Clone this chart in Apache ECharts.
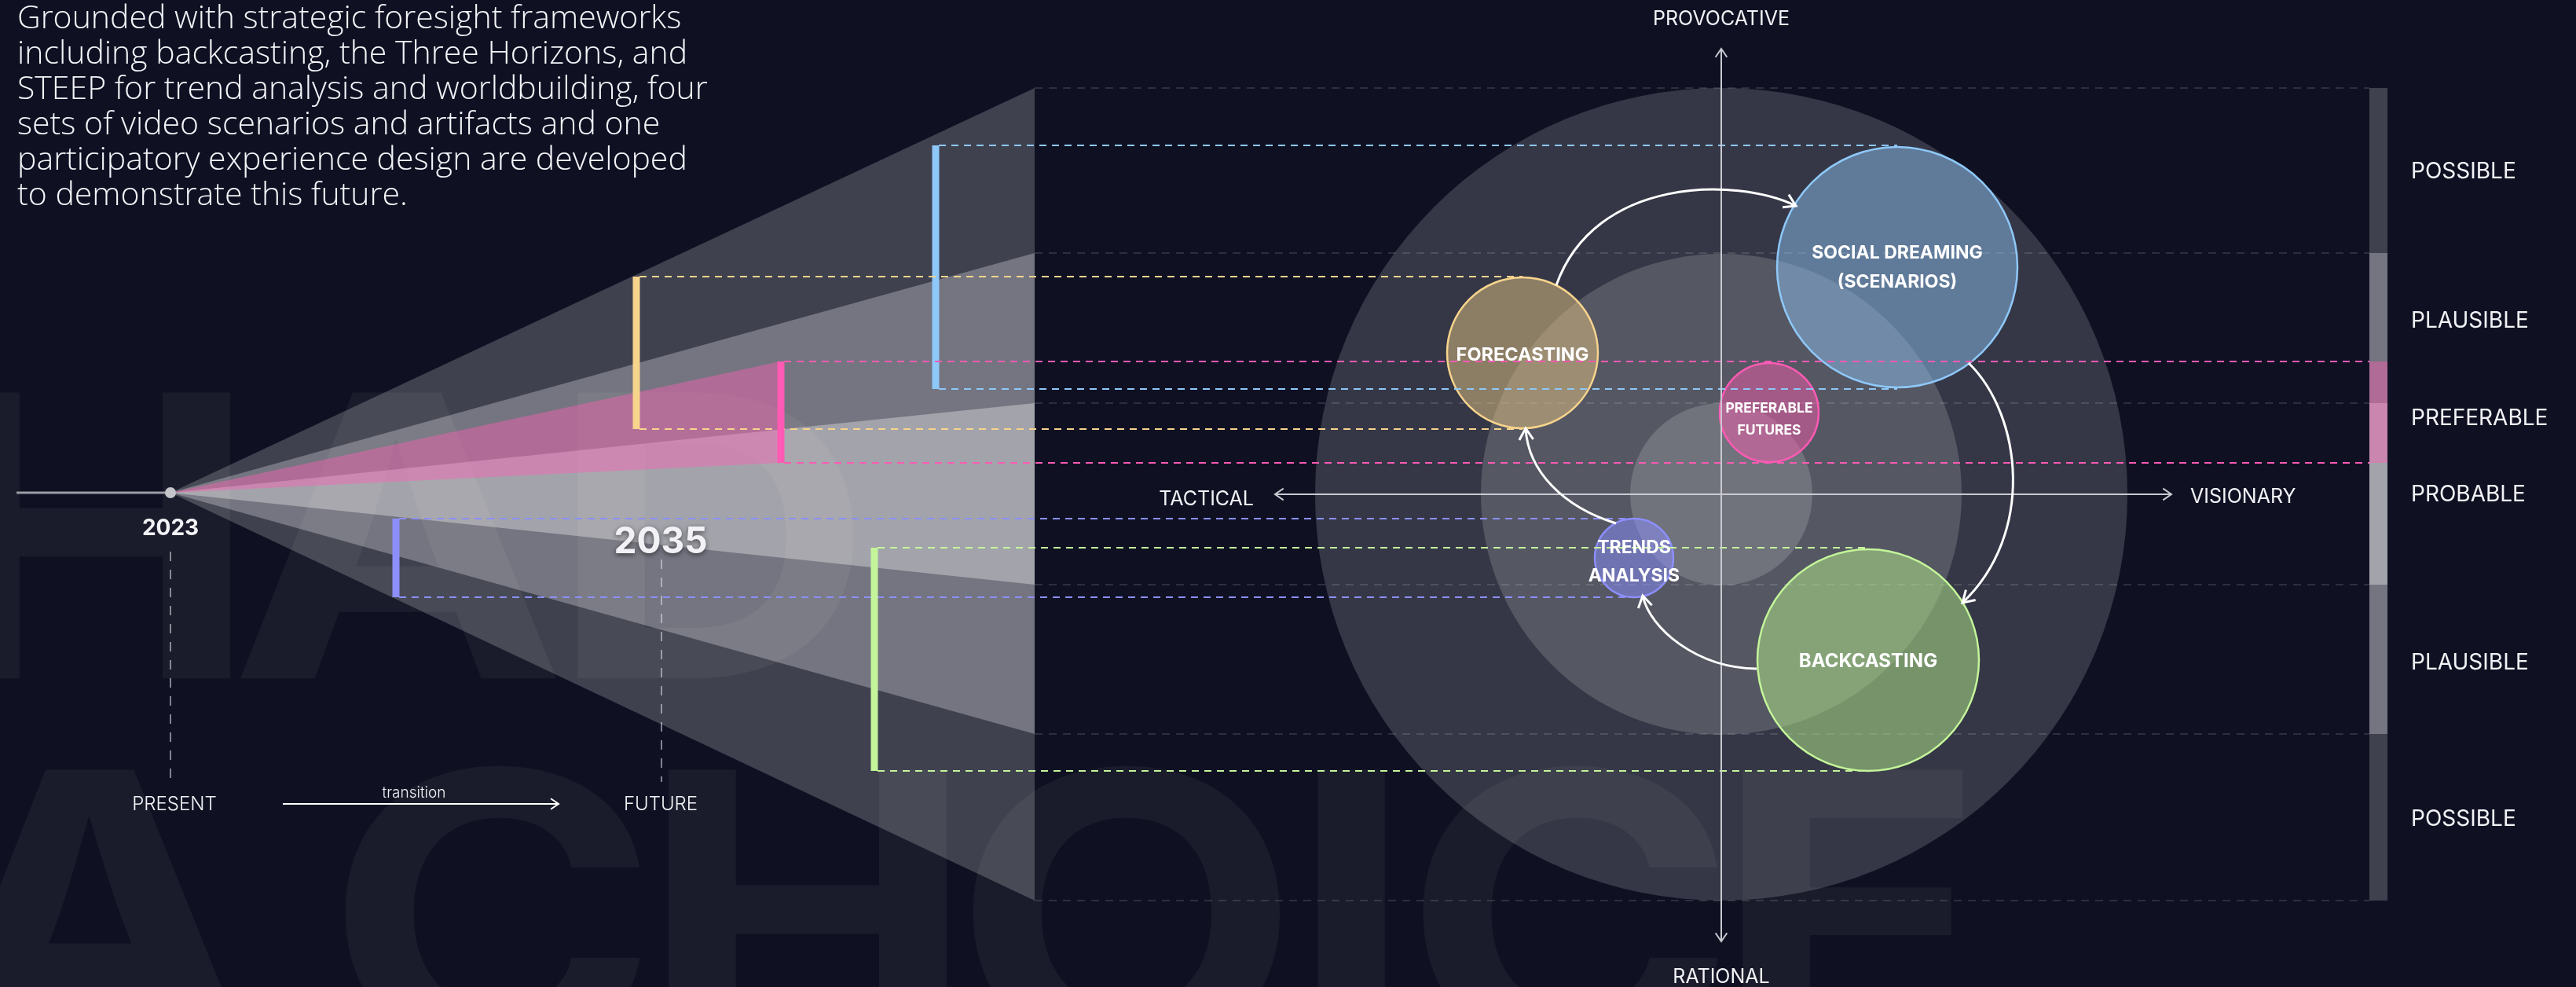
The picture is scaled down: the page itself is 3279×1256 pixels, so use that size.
<!DOCTYPE html>
<html>
<head>
<meta charset="utf-8">
<script src="https://cdn.jsdelivr.net/npm/echarts@6/dist/echarts.min.js"></script>
<style>
  html, body { margin: 0; padding: 0; background: #0f1123; }
  #chart { width: 3279px; height: 1256px; }
</style>
</head>
<body>
<div id="chart"></div>
<script>
// all values live in the canvas coordinate space of the chart (x 0..3279, y 0..1256 downward)

// timeline / cone
var origin = [217, 627];            // 2023
var years = ['2023', '2035'];
var yearX = [217, 842];
var coneEndX = 1317;
var coneTop = [112, 322, 513];       // possible, plausible, probable
var coneBottom = [1146, 934, 744];
var wedgeEnd = [993, 460, 589];      // preferable: x, top, bottom

// futures rings
var ringCenter = [2191, 629];
var ringRadius = [517, 306, 116];

// methods
var methods = ['SOCIAL DREAMING\n(SCENARIOS)', 'FORECASTING', 'PREFERABLE\nFUTURES', 'TRENDS\nANALYSIS', 'BACKCASTING'];
var circleX = [2415, 1938, 2252, 2080, 2378];
var circleY = [340, 449, 525, 710, 840];
var circleR = [153, 96, 63, 50, 141];
var bracketX = [1191, 810, 994, 504, 1113];
var bracketTop = [185, 352, 460, 660, 697];
var bracketBottom = [495, 546, 589, 760, 981];
var bracketEnd = [2415, 1938, 3016, 2080, 2378];

// flows between methods (start, control, control, end)
var flowPaths = [
  [[1981, 363], [2030, 225], [2210, 225], [2286, 262]],
  [[2506, 462], [2575, 530], [2590, 680], [2498, 767]],
  [[2236, 851], [2160, 850], [2100, 800], [2091, 758]],
  [[2057, 666], [1990, 645], [1945, 600], [1942, 545]]
];

// axes
var axisSpanX = [1623, 2764];
var axisSpanY = [62, 1198];

// horizon legend
var legendX = 3016;
var horizonLabels = ['POSSIBLE', 'PLAUSIBLE', 'PREFERABLE', 'PROBABLE', 'PLAUSIBLE', 'POSSIBLE'];
var horizonY = [218, 408, 532, 629, 843, 1042];

// backdrop lettering
var backdropLetters = ['H', 'A', 'D', 'A', 'C', 'H', 'O', 'I', 'C', 'E'];
var backdropX = [116, 507, 905, 116, 626, 1028, 1434, 1720, 1998, 2355];
var backdropRow = [0, 0, 0, 1, 1, 1, 1, 1, 1, 1];

// styles
var coneFill = ['rgba(255,255,255,0.205)', 'rgba(255,255,255,0.28)', 'rgba(255,255,255,0.34)'];
var pinkFill = 'rgba(255,96,180,0.43)';
var methodColor = ['#8ec8f8', '#f7d48c', '#ff5ab4', '#8c8ffa', '#c4f59a'];
var methodFill = ['rgba(140,190,235,0.5)', 'rgba(228,196,132,0.5)', 'rgba(244,93,172,0.5)', 'rgba(140,143,255,0.5)', 'rgba(184,239,142,0.5)'];
var labelSize = [23, 23.5, 17.5, 23, 24];
var labelLine = [37, 30, 28, 36, 30];
var labelDy = [1, 3, 9, 5, 2];
var rowMiddle = [713, 1193];

var chart = echarts.init(document.getElementById('chart'));

function chevron(tip, from, len, spread) {
  var ang = Math.atan2(tip[1] - from[1], tip[0] - from[0]);
  return [
    [tip[0] + len * Math.cos(ang + Math.PI - spread), tip[1] + len * Math.sin(ang + Math.PI - spread)],
    tip,
    [tip[0] + len * Math.cos(ang + Math.PI + spread), tip[1] + len * Math.sin(ang + Math.PI + spread)]
  ];
}

function txt(text, x, y, font, align, extra) {
  var el = {
    type: 'text', x: x, y: y, z: 100, silent: true,
    style: {
      text: text, font: font, fill: '#f2f2f6',
      align: align || 'center', verticalAlign: 'middle',
      textAlign: align || 'center', textVerticalAlign: 'middle'
    }
  };
  if (extra) { for (var k in extra) { el.style[k] = extra[k]; } }
  return el;
}

var labels = backdropLetters.map(function (ch, i) {
  return { type: 'text', x: backdropX[i], y: rowMiddle[backdropRow[i]], scaleX: 1.15, z: 0, silent: true,
    style: { text: ch, font: '700 500px Inter', fill: '#1a1c2b', align: 'center', verticalAlign: 'middle', textAlign: 'center', textVerticalAlign: 'middle' } };
}).concat([
  // intro
  { type: 'text', x: 22, y: 2, z: 100, silent: true,
    style: {
      text: 'Grounded with strategic foresight frameworks\nincluding backcasting, the Three Horizons, and\nSTEEP for trend analysis and worldbuilding, four\nsets of video scenarios and artifacts and one\nparticipatory experience design are developed\nto demonstrate this future.',
      font: '300 41px "Open Sans"', fill: '#f4f4f8', lineHeight: 45,
      align: 'left', verticalAlign: 'top', textAlign: 'left', textVerticalAlign: 'top'
    } },
  txt(years[0], yearX[0], 673, '700 28px Inter'),
  txt(years[1], yearX[1] - 1, 690, '700 46px Inter', 'center', { textShadowColor: 'rgba(0,0,0,0.55)', textShadowBlur: 6, textShadowOffsetY: 2 }),
  txt('PRESENT', 222, 1024, '300 24px Inter'),
  txt('transition', 527, 1009, '300 19px Inter'),
  txt('FUTURE', 841, 1024, '300 24px Inter'),
  txt('PROVOCATIVE', 2191, 24, '400 25px Inter'),
  txt('RATIONAL', 2191, 1243, '400 25px Inter'),
  txt('TACTICAL', 1596, 635, '400 25px Inter', 'right'),
  txt('VISIONARY', 2788, 632, '400 25px Inter', 'left')
]).concat(horizonLabels.map(function (t, i) {
  return txt(t, 3069, horizonY[i] + 1, '400 28px Inter', 'left');
}));

function base(extra) {
  var s = { type: 'custom', coordinateSystem: 'cartesian2d', silent: true, clip: false, animation: false };
  for (var k in extra) { s[k] = extra[k]; }
  return s;
}

var option = {
  backgroundColor: '#0f1123',
  animation: false,
  grid: { left: 0, right: 0, top: 0, bottom: 0 },
  xAxis: { type: 'value', min: 0, max: 3279, show: false },
  yAxis: { type: 'value', min: 0, max: 1256, inverse: true, show: false },
  graphic: { elements: labels },
  series: [
    // cone layers and their slice in the legend bar
    base({
      data: coneTop.map(function (t, i) { return [coneEndX, t, coneBottom[i]]; }),
      renderItem: function (params, api) {
        var a = api.coord(origin);
        var p1 = api.coord([api.value(0), api.value(1)]);
        var p2 = api.coord([api.value(0), api.value(2)]);
        var l1 = api.coord([legendX, api.value(1)]);
        var l2 = api.coord([legendX + 23, api.value(2)]);
        var fill = coneFill[params.dataIndex];
        return { type: 'group', children: [
          { type: 'polygon', shape: { points: [a, p1, p2] }, style: { fill: fill } },
          { type: 'rect', shape: { x: l1[0], y: l1[1], width: l2[0] - l1[0], height: l2[1] - l1[1] }, style: { fill: fill } }
        ] };
      }
    }),
    // preferable wedge
    base({
      data: [wedgeEnd],
      renderItem: function (params, api) {
        var a = api.coord(origin);
        var p1 = api.coord([api.value(0), api.value(1)]);
        var p2 = api.coord([api.value(0), api.value(2)]);
        var l1 = api.coord([legendX, api.value(1)]);
        var l2 = api.coord([legendX + 23, api.value(2)]);
        return { type: 'group', children: [
          { type: 'polygon', shape: { points: [a, p1, p2] }, style: { fill: pinkFill } },
          { type: 'rect', shape: { x: l1[0], y: l1[1], width: l2[0] - l1[0], height: l2[1] - l1[1] }, style: { fill: pinkFill } }
        ] };
      }
    }),
    // futures rings
    base({
      data: ringRadius.map(function (r) { return [ringCenter[0], ringCenter[1], r]; }),
      renderItem: function (params, api) {
        var c = api.coord([api.value(0), api.value(1)]);
        var r = api.size([api.value(2), 0])[0];
        return { type: 'circle', shape: { cx: c[0], cy: c[1], r: r }, style: { fill: 'rgba(255,255,255,0.16)' } };
      }
    }),
    // horizon guide lines
    base({
      data: coneTop.concat(coneBottom).map(function (y) { return [coneEndX, y]; }),
      renderItem: function (params, api) {
        var p1 = api.coord([api.value(0), api.value(1)]);
        var p2 = api.coord([legendX, api.value(1)]);
        return { type: 'line', shape: { x1: p1[0], y1: p1[1], x2: p2[0], y2: p2[1] },
          style: { stroke: 'rgba(255,255,255,0.17)', lineWidth: 1.5, lineDash: [10, 8] } };
      }
    }),
    // method circles
    base({
      data: methods.map(function (m, i) { return [circleX[i], circleY[i], circleR[i]]; }),
      renderItem: function (params, api) {
        var i = params.dataIndex;
        var c = api.coord([api.value(0), api.value(1)]);
        var r = api.size([api.value(2), 0])[0];
        return { type: 'circle', shape: { cx: c[0], cy: c[1], r: r },
          style: { fill: methodFill[i], stroke: methodColor[i], lineWidth: 2.5 } };
      }
    }),
    // brackets with dashed leaders
    base({
      data: bracketX.map(function (x, i) { return [x, bracketTop[i], bracketBottom[i], bracketEnd[i]]; }),
      renderItem: function (params, api) {
        var i = params.dataIndex;
        var t = api.coord([api.value(0), api.value(1)]);
        var b = api.coord([api.value(0), api.value(2)]);
        var e = api.coord([api.value(3), api.value(1)]);
        var dash = { stroke: methodColor[i], lineWidth: 2, lineDash: [9, 7] };
        return { type: 'group', children: [
          { type: 'line', shape: { x1: t[0] + 4, y1: t[1], x2: e[0], y2: t[1] }, style: dash },
          { type: 'line', shape: { x1: b[0] + 4, y1: b[1], x2: e[0], y2: b[1] }, style: dash },
          { type: 'rect', shape: { x: t[0] - 4.5, y: t[1], width: 9, height: b[1] - t[1] }, style: { fill: methodColor[i] } }
        ] };
      }
    }),
    // axes
    base({
      data: [ringCenter],
      renderItem: function (params, api) {
        var l = api.coord([axisSpanX[0], api.value(1)]), r = api.coord([axisSpanX[1], api.value(1)]);
        var t = api.coord([api.value(0), axisSpanY[0]]), b = api.coord([api.value(0), axisSpanY[1]]);
        var st = { stroke: '#c9c9d0', lineWidth: 2, fill: null };
        return { type: 'group', children: [
          { type: 'line', shape: { x1: l[0], y1: l[1], x2: r[0], y2: r[1] }, style: st },
          { type: 'line', shape: { x1: t[0], y1: t[1], x2: b[0], y2: b[1] }, style: st },
          { type: 'polyline', shape: { points: chevron(l, r, 13, 0.6) }, style: st },
          { type: 'polyline', shape: { points: chevron(r, l, 13, 0.6) }, style: st },
          { type: 'polyline', shape: { points: chevron(t, b, 13, 0.6) }, style: st },
          { type: 'polyline', shape: { points: chevron(b, t, 13, 0.6) }, style: st }
        ] };
      }
    }),
    // flows
    base({
      data: flowPaths.map(function (p) { return [p[0][0], p[0][1]]; }),
      renderItem: function (params, api) {
        var p = flowPaths[params.dataIndex].map(function (q) { return api.coord(q); });
        var st = { stroke: '#ffffff', lineWidth: 3, fill: null };
        return { type: 'group', children: [
          { type: 'bezierCurve', shape: { x1: p[0][0], y1: p[0][1], cpx1: p[1][0], cpy1: p[1][1], cpx2: p[2][0], cpy2: p[2][1], x2: p[3][0], y2: p[3][1] }, style: st },
          { type: 'polyline', shape: { points: chevron(p[3], p[2], 17, 0.55) }, style: st }
        ] };
      }
    }),
    // timeline
    base({
      data: [origin],
      renderItem: function (params, api) {
        var o = api.coord([api.value(0), api.value(1)]);
        var s = api.coord([21, api.value(1)]);
        var y0 = api.coord([yearX[0], 702]), y0b = api.coord([yearX[0], 995]);
        var y1 = api.coord([yearX[1], 712]), y1b = api.coord([yearX[1], 995]);
        var a0 = api.coord([360, 1023]), a1 = api.coord([711, 1023]);
        var vd = { stroke: 'rgba(220,220,228,0.75)', lineWidth: 1.5, lineDash: [12, 11] };
        var ar = { stroke: '#ffffff', lineWidth: 2, fill: null };
        return { type: 'group', children: [
          { type: 'line', shape: { x1: s[0], y1: s[1], x2: o[0], y2: o[1] }, style: { stroke: '#9c9ca4', lineWidth: 3 } },
          { type: 'circle', shape: { cx: o[0], cy: o[1], r: 7 }, style: { fill: '#c4c4c9' } },
          { type: 'line', shape: { x1: y0[0], y1: y0[1], x2: y0b[0], y2: y0b[1] }, style: vd },
          { type: 'line', shape: { x1: y1[0], y1: y1[1], x2: y1b[0], y2: y1b[1] }, style: vd },
          { type: 'line', shape: { x1: a0[0], y1: a0[1], x2: a1[0], y2: a1[1] }, style: ar },
          { type: 'polyline', shape: { points: chevron(a1, a0, 12, 0.6) }, style: ar }
        ] };
      }
    }),
    // method labels
    base({
      data: methods.map(function (m, i) { return [circleX[i], circleY[i]]; }),
      renderItem: function (params, api) {
        var i = params.dataIndex;
        var c = api.coord([api.value(0), api.value(1)]);
        return { type: 'text', x: c[0], y: c[1] + labelDy[i],
          style: { text: methods[i], fill: '#ffffff', font: '700 ' + labelSize[i] + 'px Inter',
            lineHeight: labelLine[i], align: 'center', verticalAlign: 'middle' } };
      }
    })
  ]
};

chart.setOption(option);
</script>
</body>
</html>
